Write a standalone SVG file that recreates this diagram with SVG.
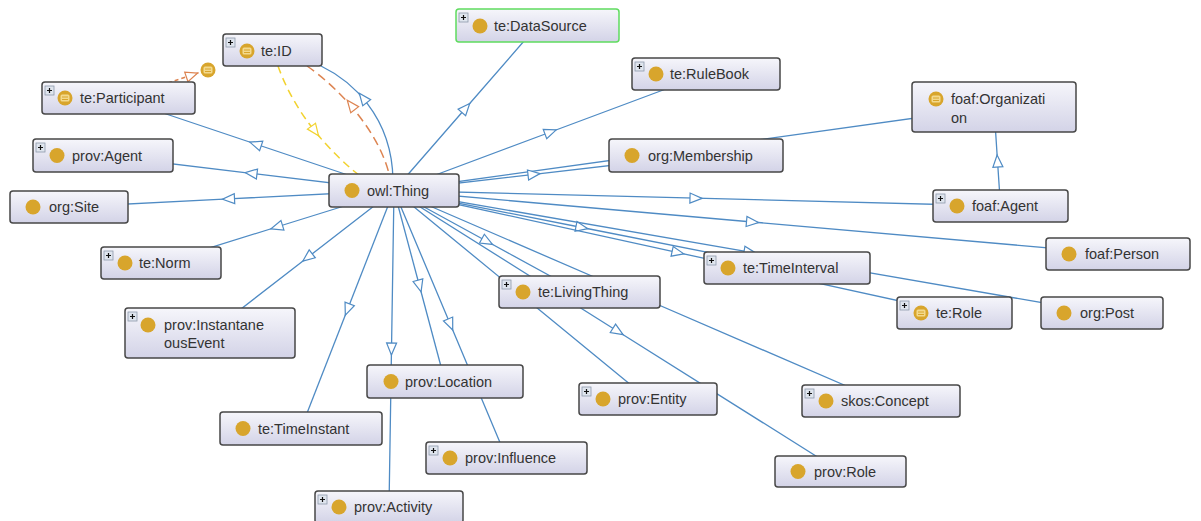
<svg xmlns="http://www.w3.org/2000/svg" xmlns:xlink="http://www.w3.org/1999/xlink" width="1201" height="521" viewBox="0 0 1201 521">
<style>
.box{fill:url(#bg);stroke:#474747;stroke-width:1.5}
.sel{stroke:#5fdc5f}
.lbl{font-family:"Liberation Sans",Arial,sans-serif;font-size:14.5px;fill:#333}
.edge{fill:none;stroke:#4f8bc4;stroke-width:1.3}
.dot{fill:#d8a52c}
</style>
<defs>
<linearGradient id="bg" x1="0" y1="0" x2="0" y2="1">
<stop offset="0" stop-color="#f6f6fb"/>
<stop offset="1" stop-color="#d3d3e7"/>
</linearGradient>
<marker id="ah" markerUnits="userSpaceOnUse" markerWidth="16" markerHeight="14" viewBox="-8 -7 16 14" refX="0" refY="0" orient="auto" overflow="visible">
<path d="M6,0 L-6,-5 L-6,5 Z" fill="#fff" stroke="#4f8bc4" stroke-width="1.2"/>
</marker>
<path id="triB" d="M6,0 L-6,-5 L-6,5 Z" fill="#fff" stroke="#4f8bc4" stroke-width="1.2"/>
<path id="triO" d="M6,0 L-6,-5 L-6,5 Z" fill="#fff" stroke="#dd8451" stroke-width="1.2"/>
<path id="triY" d="M6,0 L-6,-5 L-6,5 Z" fill="#fff" stroke="#f2d22e" stroke-width="1.2"/>
<g id="plus"><rect x="0" y="0" width="9" height="9" fill="#dfe5ee" stroke="#8d99ab" stroke-width="0.8"/><path d="M2,4.5 H7 M4.5,2 V7" stroke="#111" stroke-width="1.2"/></g>
<g id="eq"><circle r="7.5" class="dot"/><rect x="-4.5" y="-3.5" width="9" height="7" rx="1.5" fill="#f3d98c"/><path d="M-3,-1 H3 M-3,1.5 H3" stroke="#d8a52c" stroke-width="1"/></g>
</defs>
<rect width="1201" height="521" fill="#fff"/>
<g id="connectors">
<path class="edge" marker-mid="url(#ah)" d="M394,190.5 L255.5,144 L118.5,98"/>
<path class="edge" marker-mid="url(#ah)" d="M394,190.5 L251,173.3 L103,155.5"/>
<path class="edge" marker-mid="url(#ah)" d="M394,190.5 L228.5,198.9 L69,207"/>
<path class="edge" marker-mid="url(#ah)" d="M394,190.5 L276.7,227 L161,263"/>
<path class="edge" marker-mid="url(#ah)" d="M394,190.5 L307.5,257.5 L210,333"/>
<path class="edge" marker-mid="url(#ah)" d="M394,190.5 L347.5,309.5 L301,428.5"/>
<path class="edge" marker-mid="url(#ah)" d="M394,190.5 L419.5,286 L445,381.5"/>
<path class="edge" marker-mid="url(#ah)" d="M394,190.5 L450.4,324.5 L506.5,458"/>
<path class="edge" marker-mid="url(#ah)" d="M394,190.5 L391.5,349 L389,507"/>
<path class="edge" marker-mid="url(#ah)" d="M394,190.5 L487.2,241.5 L579.5,292"/>
<path class="edge" marker-mid="url(#ah)" d="M394,190.5 L521.3,295 L648,399"/>
<path class="edge" marker-mid="url(#ah)" d="M394,190.5 L618,331.5 L840.5,471.5"/>
<path class="edge" marker-mid="url(#ah)" d="M394,190.5 L638,296 L881,401"/>
<path class="edge" marker-mid="url(#ah)" d="M394,190.5 L581.9,227.5 L787,268"/>
<path class="edge" marker-mid="url(#ah)" d="M394,190.5 L678,252.6 L954.5,313"/>
<path class="edge" marker-mid="url(#ah)" d="M394,190.5 L750,252.1 L1102,313"/>
<path class="edge" marker-mid="url(#ah)" d="M394,190.5 L696,198.2 L1000.5,206"/>
<path class="edge" marker-mid="url(#ah)" d="M394,190.5 L752.5,222 L1118,254"/>
<path class="edge" marker-mid="url(#ah)" d="M394,190.5 L685.5,150 L994,107"/>
<path class="edge" marker-mid="url(#ah)" d="M394,190.5 L534,174.3 L696,155.5"/>
<path class="edge" marker-mid="url(#ah)" d="M394,190.5 L550.6,132 L706,74"/>
<path class="edge" marker-mid="url(#ah)" d="M394,190.5 L465.8,108 L537.5,25.5"/>
<path class="edge" marker-mid="url(#ah)" d="M1000.5,206 L997.5,161 L994,107"/>
<path class="edge" d="M321,66 C350,80 392,115 393,180"/>
<use xlink:href="#triB" href="#triB" transform="translate(363,98) rotate(-128)"/>
<path d="M307,66 C335,85 380,130 390,178" fill="none" stroke="#dd8451" stroke-width="1.5" stroke-dasharray="9,5"/>
<use xlink:href="#triO" href="#triO" transform="translate(351,105) rotate(-128)"/>
<path d="M278,66 C290,100 315,140 360,176" fill="none" stroke="#f2d22e" stroke-width="1.5" stroke-dasharray="8,5"/>
<use xlink:href="#triY" href="#triY" transform="translate(315,131) rotate(54)"/>
<path d="M168,83 L201,72" fill="none" stroke="#dd8451" stroke-width="1.5" stroke-dasharray="4,3"/>
<use xlink:href="#triO" href="#triO" transform="translate(192,75) rotate(-19)"/>
<use xlink:href="#eq" href="#eq" transform="translate(208,70)"/>
</g>
<g id="te-ID"><rect class="box" x="223" y="34" width="99" height="32" rx="3"/><use href="#plus" xlink:href="#plus" x="226" y="38"/><use href="#eq" xlink:href="#eq" transform="translate(247,51)"/><text class="lbl" x="261" y="56">te:ID</text></g>
<g id="te-DataSource"><rect class="box sel" x="456" y="9" width="163" height="33" rx="3"/><use href="#plus" xlink:href="#plus" x="459" y="13"/><circle class="dot" cx="480" cy="26" r="7.5"/><text class="lbl" x="494" y="31">te:DataSource</text></g>
<g id="te-RuleBook"><rect class="box" x="632" y="58" width="148" height="32" rx="3"/><use href="#plus" xlink:href="#plus" x="635" y="62"/><circle class="dot" cx="656" cy="74" r="7.5"/><text class="lbl" x="670" y="79">te:RuleBook</text></g>
<g id="te-Participant"><rect class="box" x="42" y="82" width="153" height="32" rx="3"/><use href="#plus" xlink:href="#plus" x="45" y="86"/><use href="#eq" xlink:href="#eq" transform="translate(65,98)"/><text class="lbl" x="80" y="103">te:Participant</text></g>
<g id="foaf-Organization"><rect class="box" x="912" y="82" width="164" height="50" rx="3"/><use href="#eq" xlink:href="#eq" transform="translate(936,99)"/><text class="lbl" x="951" y="104">foaf:Organizati</text><text class="lbl" x="951" y="123">on</text></g>
<g id="prov-Agent"><rect class="box" x="33" y="139" width="140" height="33" rx="3"/><use href="#plus" xlink:href="#plus" x="36" y="143"/><circle class="dot" cx="57" cy="155.5" r="7.5"/><text class="lbl" x="72" y="160.5">prov:Agent</text></g>
<g id="org-Membership"><rect class="box" x="609" y="139" width="174" height="33" rx="3"/><circle class="dot" cx="632" cy="155.5" r="7.5"/><text class="lbl" x="648" y="160.5">org:Membership</text></g>
<g id="owl-Thing"><rect class="box" x="329" y="174" width="130" height="33" rx="3"/><circle class="dot" cx="352" cy="190.5" r="7.5"/><text class="lbl" x="367" y="195.5">owl:Thing</text></g>
<g id="org-Site"><rect class="box" x="10" y="191" width="118" height="32" rx="3"/><circle class="dot" cx="33" cy="207" r="7.5"/><text class="lbl" x="49" y="212">org:Site</text></g>
<g id="foaf-Agent"><rect class="box" x="933" y="190" width="135" height="32" rx="3"/><use href="#plus" xlink:href="#plus" x="936" y="194"/><circle class="dot" cx="957" cy="206" r="7.5"/><text class="lbl" x="972" y="211">foaf:Agent</text></g>
<g id="te-Norm"><rect class="box" x="101" y="247" width="120" height="32" rx="3"/><use href="#plus" xlink:href="#plus" x="104" y="251"/><circle class="dot" cx="125" cy="263" r="7.5"/><text class="lbl" x="139" y="268">te:Norm</text></g>
<g id="foaf-Person"><rect class="box" x="1046" y="238" width="144" height="32" rx="3"/><circle class="dot" cx="1069" cy="254" r="7.5"/><text class="lbl" x="1085" y="259">foaf:Person</text></g>
<g id="te-TimeInterval"><rect class="box" x="704" y="252" width="166" height="32" rx="3"/><use href="#plus" xlink:href="#plus" x="707" y="256"/><circle class="dot" cx="728" cy="268" r="7.5"/><text class="lbl" x="743" y="273">te:TimeInterval</text></g>
<g id="te-LivingThing"><rect class="box" x="499" y="276" width="161" height="32" rx="3"/><use href="#plus" xlink:href="#plus" x="502" y="280"/><circle class="dot" cx="523" cy="292" r="7.5"/><text class="lbl" x="538" y="297">te:LivingThing</text></g>
<g id="te-Role"><rect class="box" x="897" y="297" width="115" height="32" rx="3"/><use href="#plus" xlink:href="#plus" x="900" y="301"/><use href="#eq" xlink:href="#eq" transform="translate(921,313)"/><text class="lbl" x="936" y="318">te:Role</text></g>
<g id="org-Post"><rect class="box" x="1041" y="297" width="122" height="32" rx="3"/><circle class="dot" cx="1064" cy="313" r="7.5"/><text class="lbl" x="1080" y="318">org:Post</text></g>
<g id="prov-InstantaneousEvent"><rect class="box" x="125" y="308" width="170" height="50" rx="3"/><use href="#plus" xlink:href="#plus" x="128" y="312"/><circle class="dot" cx="148" cy="325" r="7.5"/><text class="lbl" x="164" y="330">prov:Instantane</text><text class="lbl" x="164" y="348">ousEvent</text></g>
<g id="prov-Location"><rect class="box" x="367" y="365" width="156" height="33" rx="3"/><circle class="dot" cx="391" cy="381.5" r="7.5"/><text class="lbl" x="405" y="386.5">prov:Location</text></g>
<g id="prov-Entity"><rect class="box" x="579" y="383" width="138" height="32" rx="3"/><use href="#plus" xlink:href="#plus" x="582" y="387"/><circle class="dot" cx="603" cy="399" r="7.5"/><text class="lbl" x="618" y="404">prov:Entity</text></g>
<g id="skos-Concept"><rect class="box" x="802" y="385" width="158" height="32" rx="3"/><use href="#plus" xlink:href="#plus" x="805" y="389"/><circle class="dot" cx="826" cy="401" r="7.5"/><text class="lbl" x="841" y="406">skos:Concept</text></g>
<g id="te-TimeInstant"><rect class="box" x="220" y="412" width="162" height="33" rx="3"/><circle class="dot" cx="243" cy="428.5" r="7.5"/><text class="lbl" x="258" y="433.5">te:TimeInstant</text></g>
<g id="prov-Influence"><rect class="box" x="426" y="442" width="161" height="32" rx="3"/><use href="#plus" xlink:href="#plus" x="429" y="446"/><circle class="dot" cx="450" cy="458" r="7.5"/><text class="lbl" x="465" y="463">prov:Influence</text></g>
<g id="prov-Role"><rect class="box" x="775" y="456" width="131" height="31" rx="3"/><circle class="dot" cx="798" cy="471.5" r="7.5"/><text class="lbl" x="814" y="476.5">prov:Role</text></g>
<g id="prov-Activity"><rect class="box" x="315" y="491" width="148" height="32" rx="3"/><use href="#plus" xlink:href="#plus" x="318" y="495"/><circle class="dot" cx="339" cy="507" r="7.5"/><text class="lbl" x="354" y="512">prov:Activity</text></g>
</svg>
